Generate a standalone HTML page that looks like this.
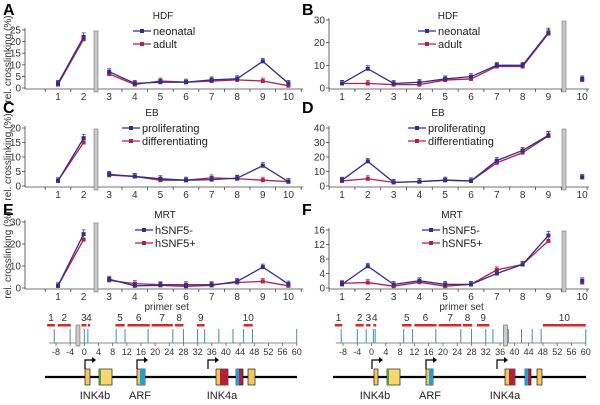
<!DOCTYPE html>
<html><head><meta charset="utf-8"><style>
body{margin:0;background:#fff}
svg{display:block;font-family:"Liberation Sans",sans-serif}
</style></head><body>
<svg id="fig" width="600" height="405" viewBox="0 0 600 405"></svg>
<script>
const categories=[1,2,3,4,5,6,7,8,9,10];
const aNeo=[2,22,7,2,2.5,2.5,3.5,4,11.5,2];
const aAdu=[1.5,21,6,1.5,3,2.5,3,3.5,3,1];
const bNeo=[2,8.5,2,2.5,4,5,10,10,24.5,4];
const bAdu=[2,2,1.5,1.5,3.5,4,9.5,9.5,24,3.5];
const cPro=[1.8,16.5,4,3.3,2.5,2,2.2,2.7,7,1.5];
const cDif=[1.8,15,3.7,3.3,2,2,2.8,2.5,2,1.5];
const dPro=[4,17,2.5,3,4,3.5,17.5,24.5,35,6];
const dDif=[3.5,5,2.5,3,4,3.5,16,23,34.5,6];
const eMin=[1,24.5,4,1,1.2,0.8,1.2,3,9.5,1.8];
const ePlu=[1,22,3.5,2,1.5,1.5,1.5,2.5,3,1];
const fMin=[1,6,1,2,1,1,4,6.5,14.5,2];
const fPlu=[1.3,1.5,0.5,1.6,0.5,1,5,6.5,13,1.5];
const ticksA=[0,5,10,15,20,25], ticksB=[0,10,20,30], ticksC=[0,5,10,15,20], ticksD=[0,10,20,30,40], ticksE=[0,10,20,30], ticksF=[0,4,8,12,16];
const mapTicks=[-8,-4,0,4,8,12,16,20,24,28,32,36,40,44,48,52,56,60];
const leftPrimers=[-8.5,-4,0,1,9,11.5,18,25,28,32,34,38,42,45,47.5,60];
const rightPrimers=[-8.5,-4,-1.5,0.5,1,9,11.5,18,25,28,32,34,38.3,42,45,47.5,60];

const NS="http://www.w3.org/2000/svg";
const svg=document.getElementById('fig');
const BLUE="#2d2f8c", RED="#b51f4f", GRAY="#444";
function el(tag,attrs,parent,text){const e=document.createElementNS(NS,tag);for(const k in attrs)e.setAttribute(k,attrs[k]);if(text!==undefined)e.textContent=text;(parent||svg).appendChild(e);return e;}

function panel(o){
  const g=el('g',{});
  
  
  const ymax=o.ticks[o.ticks.length-1];
  const Y=v=>o.y0-(o.y0-o.yTop)*v/ymax;
  const X=i=>o.x1+i*o.step;
  const lt=el('text',{x:o.lx,y:o.ly,'font-size':16,'font-weight':'bold'},g,o.letter);
  
  el('line',{x1:o.ax,y1:o.yTop-2,x2:o.ax,y2:o.y0+1,stroke:GRAY,'stroke-width':0.8},g);
  o.ticks.forEach(t=>{
    el('line',{x1:o.ax-3,y1:Y(t),x2:o.ax,y2:Y(t),stroke:GRAY,'stroke-width':0.8},g);
    const tx=el('text',{x:o.ax-4,y:Y(t)+3.5,'font-size':10,'text-anchor':'end',fill:'#333'},g,t);
    
  });
  el('line',{x1:o.ax,y1:o.y0+1,x2:X(9)+o.step*0.5+2,y2:o.y0+1,stroke:GRAY,'stroke-width':0.8},g);
  for(let i=0;i<=10;i++){el('line',{x1:X(i)-o.step/2,y1:o.y0+1,x2:X(i)-o.step/2,y2:o.y0+4,stroke:GRAY,'stroke-width':0.8},g);}
  categories.forEach((c,i)=>{
    const tx=el('text',{x:X(i)+(i==9&&o.gap==9?8:0),y:o.y0+12,'font-size':10,'text-anchor':'middle',fill:'#333'},g,c);
    
  });
  const gb=el('rect',{x:o.gapX,y:o.yTop+1,width:4,height:o.y0-o.yTop+3,fill:'#c8c8c8',stroke:'#777','stroke-width':0.6},g);
  
  const xs=i=>X(i)+(o.gap==9&&i==9?8:0);
  [[o.s2,RED,'series-2'],[o.s1,BLUE,'series-1']].forEach(([d,col,nm])=>{
    const segs=o.gap==2?[[0,1],[2,9]]:[[0,8],[9,9]];
    segs.forEach(([a,b])=>{
      let p='';for(let i=a;i<=b;i++)p+=(i==a?'M':'L')+xs(i)+','+Y(d[i]);
      const pl=el('path',{d:p,fill:'none',stroke:col,'stroke-width':1.3},g);
      
    });
    d.forEach((v,i)=>{
      const eh=Math.max(2,(o.y0-o.yTop)*v*0.06/ymax)+1;
      el('line',{x1:xs(i),y1:Y(v),x2:xs(i),y2:Y(v)-eh,stroke:col,'stroke-width':0.7},g);
      el('line',{x1:xs(i)-2,y1:Y(v)-eh,x2:xs(i)+2,y2:Y(v)-eh,stroke:col,'stroke-width':0.7},g);
      const m=el('rect',{x:xs(i)-2,y:Y(v)-2,width:4,height:4,fill:col},g);
      
    });
  });
  const tt=el('text',{x:o.legX+30,y:o.legY-12,'font-size':10,'text-anchor':'middle',fill:'#222'},g,o.title);
  
  [[o.n1,BLUE,0],[o.n2,RED,13]].forEach(([n,col,dy])=>{
    const lg=el('g',{},g);
    
    el('line',{x1:o.legX,y1:o.legY+dy,x2:o.legX+18,y2:o.legY+dy,stroke:col,'stroke-width':1.3},lg);
    el('rect',{x:o.legX+7,y:o.legY+dy-2,width:4,height:4,fill:col},lg);
    el('text',{x:o.legX+20,y:o.legY+dy+4,'font-size':11,fill:'#222'},lg,n);
  });
  if(o.ytitle){
    const yt=el('text',{x:0,y:0,'font-size':10,'text-anchor':'middle',fill:'#333',transform:`translate(11,${(o.y0+o.yTop)/2}) rotate(-90)`},g,'rel. crosslinking (%)');
    
  }
  if(o.xtitle){
    const xt=el('text',{x:(o.ax+X(9))/2+10,y:o.y0+22,'font-size':10,'text-anchor':'middle',fill:'#333'},g,'primer set');
    
  }
}
const L={ax:25,x1:58,step:25.6,gap:2,gapX:94,lx:3};
const R={ax:329,x1:342,step:25.8,gap:9,gapX:562,lx:302};
panel({...L,letter:'A',ly:15,y0:88,yTop:30,ticks:ticksA,s1:aNeo,s2:aAdu,title:'HDF',n1:'neonatal',n2:'adult',legX:133,legY:31,ytitle:1});
panel({...R,letter:'B',ly:15,y0:88,yTop:20,ticks:ticksB,s1:bNeo,s2:bAdu,title:'HDF',n1:'neonatal',n2:'adult',legX:418,legY:31});
panel({...L,letter:'C',ly:113,y0:186,yTop:128,ticks:ticksC,s1:cPro,s2:cDif,title:'EB',n1:'proliferating',n2:'differentiating',legX:122,legY:128,ytitle:1});
panel({...R,letter:'D',ly:113,y0:186,yTop:128,ticks:ticksD,s1:dPro,s2:dDif,title:'EB',n1:'proliferating',n2:'differentiating',legX:408,legY:128});
panel({...L,letter:'E',ly:215,y0:288,yTop:222,ticks:ticksE,s1:eMin,s2:ePlu,title:'MRT',n1:'hSNF5-',n2:'hSNF5+',legX:135,legY:230,ytitle:1,xtitle:1});
panel({...R,letter:'F',ly:215,y0:288,yTop:230,ticks:ticksF,s1:fMin,s2:fPlu,title:'MRT',n1:'hSNF5-',n2:'hSNF5+',legX:422,legY:230,xtitle:1});

function map(o){
  const g=el('g',{});
  
  const X=u=>o.x0+(u+8)*o.k;
  el('line',{x1:X(-10),y1:343,x2:X(60),y2:343,stroke:'#666','stroke-width':0.8},g);
  mapTicks.forEach(t=>{
    el('line',{x1:X(t),y1:343,x2:X(t),y2:346,stroke:'#666','stroke-width':0.8},g);
    el('text',{x:X(t),y:355,'font-size':9,'text-anchor':'middle',fill:'#333'},g,t);
  });
  o.primers.forEach(p=>{
    const pl=el('line',{x1:X(p),y1:329,x2:X(p),y2:343,stroke:'#3a8fc0','stroke-width':1},g);
    
  });
  el('rect',{x:X(o.box)-2,y:325,width:4,height:21,fill:'#ccc',stroke:'#666','stroke-width':0.6},g);
  o.segs.forEach(([a,b],i)=>{
    const r=el('rect',{x:X(a),y:324,width:X(b)-X(a),height:2.5,fill:'#d42a2a'},g);
    
    el('text',{x:(X(a)+X(b))/2,y:321,'font-size':10,'text-anchor':'middle',fill:'#333'},g,i+1);
  });
  el('line',{x1:o.lineA,y1:377,x2:o.lineB,y2:377,stroke:'#000','stroke-width':2.2},g);
  o.genes.forEach(b=>{
    const r=el('rect',{x:b[0],y:369,width:b[1],height:16,fill:b[2],stroke:'#222','stroke-width':0.7},g);
    
    if(b[3])el('rect',{x:b[3][0],y:369,width:b[3][1],height:16,fill:b[3][2]},g);
  });
  o.arrows.forEach(a=>{
    el('path',{d:`M${a},369 V360 H${a+8}`,fill:'none',stroke:'#000','stroke-width':1.2},g);
    el('path',{d:`M${a+7},357 L${a+11},360 L${a+7},363 Z`,fill:'#000'},g);
  });
  o.labels.forEach(([t,x])=>{
    const tx=el('text',{x:x,y:399,'font-size':11,'text-anchor':'middle',fill:'#222'},g,t);
    
  });
}
map({side:'left',x0:56,k:3.54,primers:leftPrimers,box:-1.8,
  segs:[[-10.5,-8.3],[-7.5,-3.8],[-0.8,0.6],[1,1.6],[8.8,11.4],[12.2,18.5],[19,25],[25.6,28],[31.8,34],[45,47.6]],
  lineA:45,lineB:297,
  genes:[[85,5,'#f2c75c'],[99,13,'#f6d66e',[99,2,'#5a9a3a']],[137,8,'#f2c75c',[140,5,'#1f9fd6']],[216,12,'#f2c75c',[220,8,'#b4203a']],[236,7,'#b4203a',[236,3,'#1f9fd6']],[248,7,'#f2c75c']],
  arrows:[85,137,208],labels:[['INK4b',95],['ARF',140],['INK4a',222]]});
map({side:'right',x0:343,k:3.57,primers:rightPrimers,box:37.5,
  segs:[[-10.3,-8.2],[-4.5,-2.2],[-1.5,-0.3],[0.5,1.3],[8.5,11.2],[12,18.2],[18.8,25.2],[25.6,28.2],[29.5,33],[48,60]],
  lineA:333,lineB:586,
  genes:[[374,4,'#f2c75c'],[387,13,'#f6d66e',[387,2,'#5a9a3a']],[426,7,'#f2c75c',[429,4,'#1f9fd6']],[505,10,'#f2c75c',[509,6,'#b4203a']],[525,6,'#b4203a',[525,3,'#1f9fd6']],[537,5,'#f2c75c']],
  arrows:[372,426,497],labels:[['INK4b',375],['ARF',430],['INK4a',505]]});
</script>
</body></html>
